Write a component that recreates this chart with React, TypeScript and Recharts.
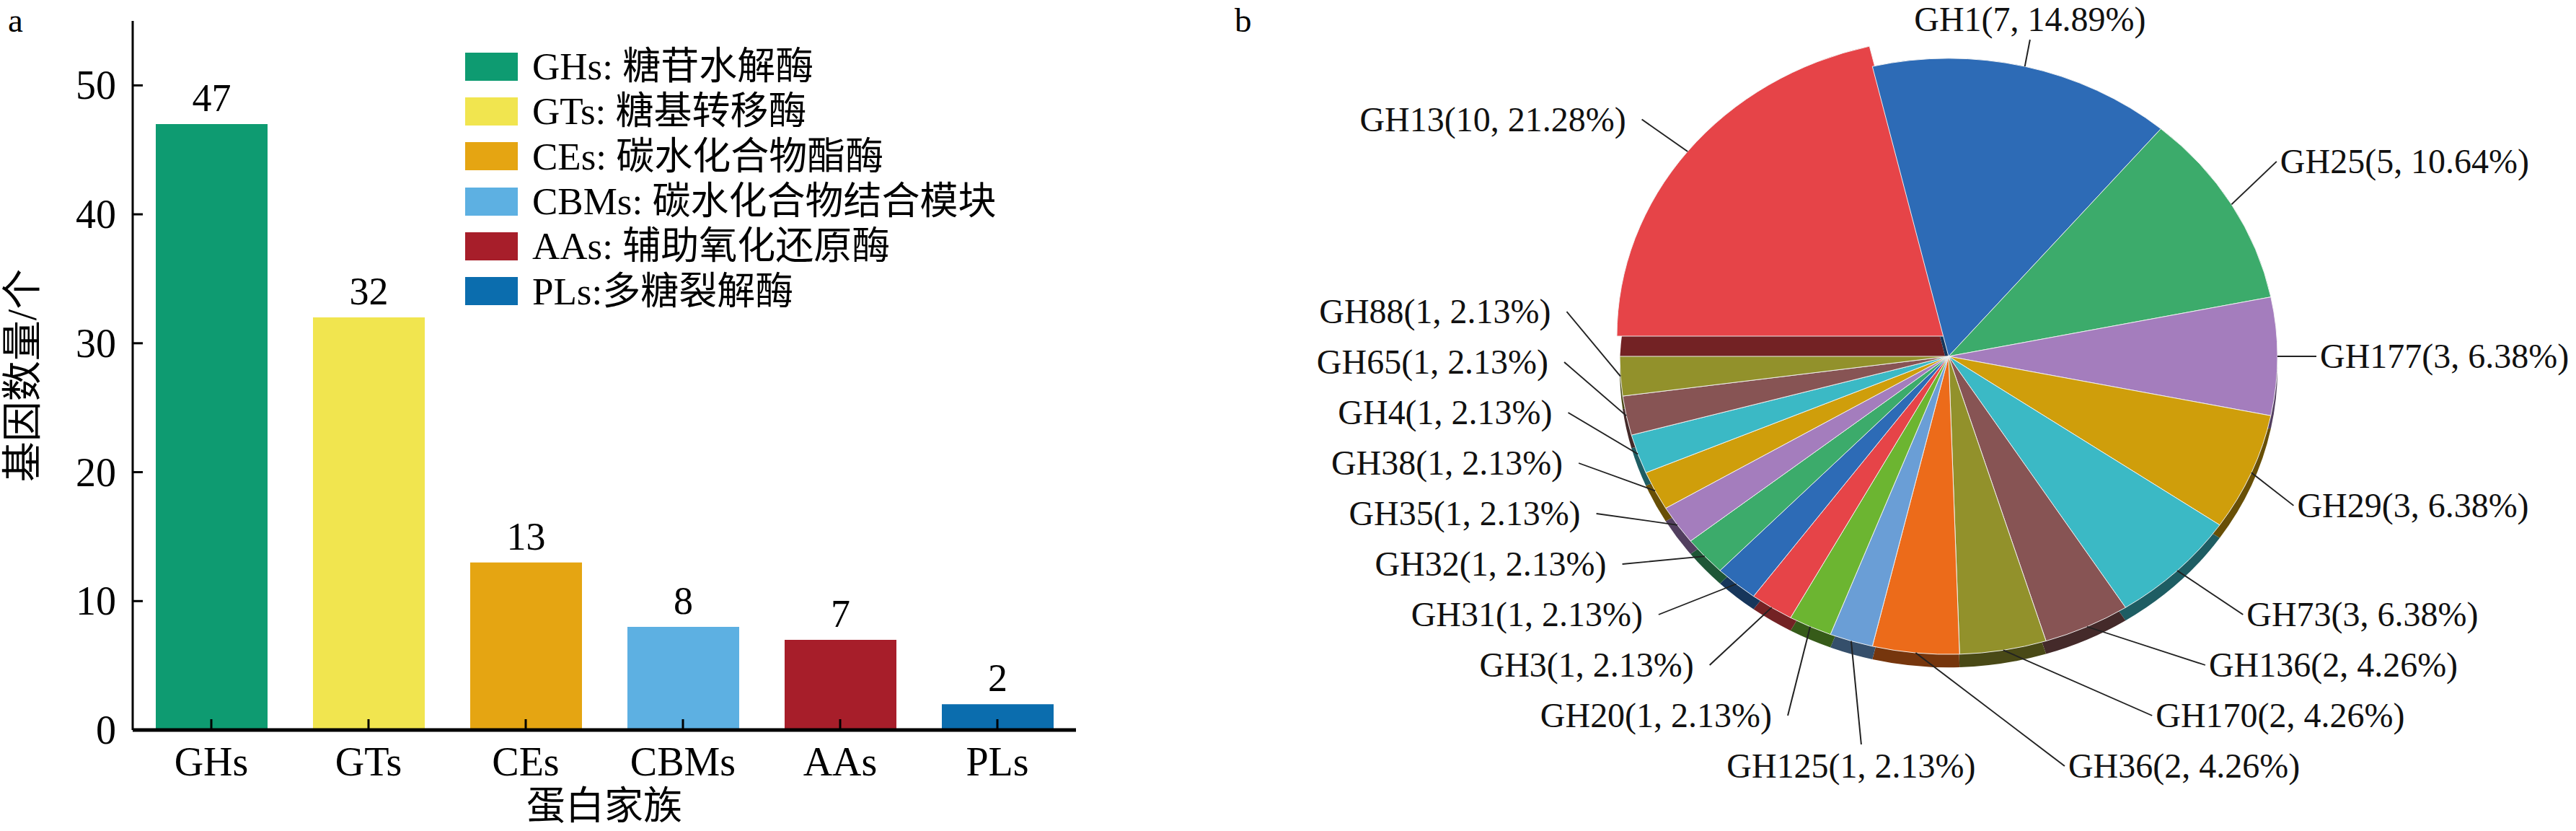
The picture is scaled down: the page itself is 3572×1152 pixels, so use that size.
import React from 'react'
import { BarChart, Bar, XAxis, YAxis, Cell, LabelList, Legend, Label, PieChart, Pie } from 'recharts'

// panel a: gene counts per CAZy family
const families = ['GHs', 'GTs', 'CEs', 'CBMs', 'AAs', 'PLs']
const familyNames = [
  'GHs: 糖苷水解酶',
  'GTs: 糖基转移酶',
  'CEs: 碳水化合物酯酶',
  'CBMs: 碳水化合物结合模块',
  'AAs: 辅助氧化还原酶',
  'PLs:多糖裂解酶',
]
const geneCounts = [47, 32, 13, 8, 7, 2]
const familyColors = ['#0E9B71', '#F1E54F', '#E5A512', '#5DB0E2', '#A71E2A', '#0B6DAE']
const yTicks = [0, 10, 20, 30, 40, 50]

// panel b: GH sub-families
const ghFamilies = [
  'GH13', 'GH1', 'GH25', 'GH177', 'GH29', 'GH73', 'GH136', 'GH170', 'GH36', 'GH125',
  'GH20', 'GH3', 'GH31', 'GH32', 'GH35', 'GH38', 'GH4', 'GH65', 'GH88',
]
const ghCounts = [10, 7, 5, 3, 3, 3, 2, 2, 2, 1, 1, 1, 1, 1, 1, 1, 1, 1, 1]
const ghColors = [
  '#E64448', '#2D6BB6', '#3CAB6B', '#A47DBD', '#CF9E0B', '#3BB9C5', '#875454', '#92912B',
  '#EC6B1A', '#6A9ED6', '#6CB531', '#E64448', '#2D6BB6', '#3CAB6B', '#A47DBD', '#CF9E0B',
  '#3BB9C5', '#875454', '#92912B',
]

const SERIF = '"Liberation Serif", "Noto Sans CJK SC", serif'

const barRows = families.map((family, i) => ({ family, count: geneCounts[i] }))
const pieRows = ghFamilies.map((name, i) => ({ name, value: ghCounts[i] }))
const ghTotal = ghCounts.reduce((a, b) => a + b, 0)

// pie geometry (screen px inside the pie panel); the pie is squashed a bit to look tilted
const PIE_W = 2012
const SQUASH = 0.906
const PIE_CX = 1142
const PIE_CY = 494
const PIE_R = 456
const DEPTH = 18
const GAP = 70
const LABEL_BOTTOM = 1062

const darken = (hex: string, f: number) => {
  const n = parseInt(hex.slice(1), 16)
  const r = Math.round(((n >> 16) & 255) * f)
  const g = Math.round(((n >> 8) & 255) * f)
  const b = Math.round((n & 255) * f)
  return `rgb(${r},${g},${b})`
}

const explodeIndex = ghCounts.indexOf(Math.max(...ghCounts))

// spread the labels on each side so they don't overlap
function pieLabelLayout() {
  let cum = 0
  const items = ghCounts.map((v, i) => {
    const mid = 180 - (360 * (cum + v / 2)) / ghTotal
    cum += v
    const rad = (mid * Math.PI) / 180
    const c = Math.cos(rad)
    const s = Math.sin(rad)
    let ex = PIE_CX + PIE_R * c
    let ey = PIE_CY - PIE_R * SQUASH * s
    if (i === explodeIndex) {
      ex -= 4
      ey -= 28
    }
    const side = s > 0.95 ? 'top' : c > -0.15 ? 'right' : 'left'
    return { i, c, s, ex, ey, side, y: PIE_CY - 530 * s }
  })

  for (const side of ['left', 'right']) {
    const g = items.filter((d) => d.side === side).sort((a, b) => a.y - b.y)
    for (let k = 1; k < g.length; k++) g[k].y = Math.max(g[k].y, g[k - 1].y + GAP)
    if (g.length) g[g.length - 1].y = Math.min(g[g.length - 1].y, LABEL_BOTTOM)
    for (let k = g.length - 2; k >= 0; k--) g[k].y = Math.min(g[k].y, g[k + 1].y - GAP)
  }

  return items.map((d) => {
    if (d.side === 'top') {
      const tx = PIE_CX + 487 * d.c
      const ty = Math.max(PIE_CY - 487 * d.s, 27)
      return { ...d, tx, ty, anchor: 'middle', lx: tx, ly: ty + 28 }
    }
    const dy = d.y - PIE_CY
    if (d.side === 'right') {
      const tx = PIE_CX + 515 * Math.sqrt(Math.max(0, 1 - (dy / 600) ** 2))
      return { ...d, tx, ty: d.y, anchor: 'start', lx: tx - 5, ly: d.y }
    }
    if (Math.abs(dy) >= 555) {
      return { ...d, tx: d.ex, ty: d.y, anchor: 'middle', lx: d.ex + 14, ly: d.y - 30 }
    }
    const tx = PIE_CX - Math.sqrt(555 * 555 - dy * dy)
    return { ...d, tx, ty: d.y, anchor: 'end', lx: tx + 22, ly: d.y }
  })
}

const labelLayout = pieLabelLayout()

const renderPieLabel = (props: any) => {
  const L = labelLayout[props.index]
  if (!L) return null
  const v = ghCounts[props.index]
  const text = `${ghFamilies[props.index]}(${v}, ${((v / ghTotal) * 100).toFixed(2)}%)`
  return (
    <g key={`lbl-${props.index}`}>
      <line
        x1={L.ex}
        y1={L.ey / SQUASH}
        x2={L.lx}
        y2={L.ly / SQUASH}
        stroke="#222"
        strokeWidth={2}
      />
      <text
        transform={`translate(${L.tx} ${L.ty / SQUASH}) scale(1 ${1 / SQUASH})`}
        textAnchor={L.anchor}
        dominantBaseline="central"
        fontSize={48}
        fontFamily={SERIF}
        fill="#111"
      >
        {text}
      </text>
    </g>
  )
}

const renderYTick = (props: any) => {
  const { x, y, payload } = props
  return (
    <g>
      <line x1={x} x2={x + 14} y1={y} y2={y} stroke="#000" strokeWidth={3} />
      <text x={x - 23} y={y} textAnchor="end" dominantBaseline="central" fontSize={56} fontFamily={SERIF} fill="#000">
        {payload.value}
      </text>
    </g>
  )
}

const renderXTick = (props: any) => {
  const { x, y, payload } = props
  return (
    <g>
      <line x1={x} x2={x} y1={y} y2={y - 15} stroke="#000" strokeWidth={3} />
      <text x={x} y={y + 44} textAnchor="middle" dominantBaseline="central" fontSize={56} fontFamily={SERIF} fill="#000">
        {payload.value}
      </text>
    </g>
  )
}

const renderLegend = () => (
  <div style={{ display: 'flex', flexDirection: 'column' }}>
    {familyNames.map((n, i) => (
      <div key={n} style={{ display: 'flex', alignItems: 'center', height: 62.3 }}>
        <span style={{ display: 'inline-block', width: 73, height: 39, background: familyColors[i], marginRight: 20 }} />
        <span style={{ fontSize: 53, fontFamily: SERIF, lineHeight: '62px', whiteSpace: 'nowrap', color: '#000' }}>{n}</span>
      </div>
    ))}
  </div>
)

export default function App() {
  return (
    <div style={{ position: 'absolute', left: 0, top: 0, width: 3572, height: 1152, background: '#fff', overflow: 'hidden' }}>
      <div style={{ position: 'absolute', left: 11, top: 1, fontSize: 47, fontFamily: SERIF, lineHeight: 'normal' }}>a</div>
      <div style={{ position: 'absolute', left: 1712, top: 1, fontSize: 47, fontFamily: SERIF, lineHeight: 'normal' }}>b</div>

      <div style={{ position: 'absolute', left: 0, top: 0 }}>
        <BarChart width={1560} height={1152} data={barRows} margin={{ top: 29, right: 68, bottom: 0, left: 64 }}>
          <YAxis
            domain={[0, 55]}
            ticks={yTicks}
            width={120}
            axisLine={{ stroke: '#000', strokeWidth: 3 }}
            tickLine={false}
            tickSize={0}
            tickMargin={0}
            tick={renderYTick}
          >
            <Label
              content={(p: any) => {
                const vb = p.viewBox || { x: 64, y: 29, width: 120, height: 983 }
                const cx = vb.x - 33
                const cy = vb.y + vb.height / 2
                return (
                  <text
                    x={cx}
                    y={cy}
                    transform={`rotate(-90 ${cx} ${cy})`}
                    textAnchor="middle"
                    dominantBaseline="central"
                    fontSize={56}
                    fontFamily={SERIF}
                    fill="#000"
                  >
                    基因数量/个
                  </text>
                )
              }}
            />
          </YAxis>
          <XAxis
            dataKey="family"
            height={140}
            interval={0}
            axisLine={{ stroke: '#000', strokeWidth: 5 }}
            tickLine={false}
            tickSize={0}
            tickMargin={0}
            tick={renderXTick}
          >
            <Label
              content={(p: any) => {
                const vb = p.viewBox || { x: 184, y: 1012, width: 1308, height: 140 }
                return (
                  <text
                    x={vb.x + vb.width / 2}
                    y={vb.y + 106}
                    textAnchor="middle"
                    dominantBaseline="central"
                    fontSize={54}
                    fontFamily={SERIF}
                    fill="#000"
                  >
                    蛋白家族
                  </text>
                )
              }}
            />
          </XAxis>
          <Legend
            layout="vertical"
            align="center"
            verticalAlign="middle"
            content={renderLegend}
            wrapperStyle={{ left: 645, top: 61, width: 1000 }}
          />
          <Bar dataKey="count" barSize={155} isAnimationActive={false}>
            {barRows.map((r, i) => (
              <Cell key={r.family} fill={familyColors[i]} />
            ))}
            <LabelList dataKey="count" position="top" offset={18} fill="#000" fontSize={54} fontFamily={SERIF} />
          </Bar>
        </BarChart>
      </div>

      <div
        style={{
          position: 'absolute',
          left: 1560,
          top: 0,
          width: PIE_W,
          height: 1152 / SQUASH,
          transform: `scaleY(${SQUASH})`,
          transformOrigin: '0 0',
        }}
      >
        <PieChart width={PIE_W} height={1152 / SQUASH} margin={{ top: 0, right: 0, bottom: 0, left: 0 }}>
          {/* darker copy underneath gives the pie some thickness */}
          <Pie
            data={pieRows}
            dataKey="value"
            nameKey="name"
            cx={PIE_CX}
            cy={(PIE_CY + DEPTH) / SQUASH}
            outerRadius={PIE_R}
            startAngle={180}
            endAngle={-180}
            stroke="none"
            label={false}
            labelLine={false}
            isAnimationActive={false}
          >
            {pieRows.map((r, i) => (
              <Cell key={`d-${r.name}`} fill={darken(ghColors[i], 0.5)} />
            ))}
          </Pie>
          <Pie
            data={pieRows}
            dataKey="value"
            nameKey="name"
            cx={PIE_CX}
            cy={PIE_CY / SQUASH}
            outerRadius={PIE_R}
            startAngle={180}
            endAngle={-180}
            stroke="#f2f2f2"
            strokeWidth={1}
            label={renderPieLabel}
            labelLine={false}
            isAnimationActive={false}
          >
            {pieRows.map((r, i) => (
              <Cell
                key={r.name}
                fill={ghColors[i]}
                transform={i === explodeIndex ? `translate(-4 ${-28 / SQUASH})` : undefined}
              />
            ))}
          </Pie>
        </PieChart>
      </div>
    </div>
  )
}
